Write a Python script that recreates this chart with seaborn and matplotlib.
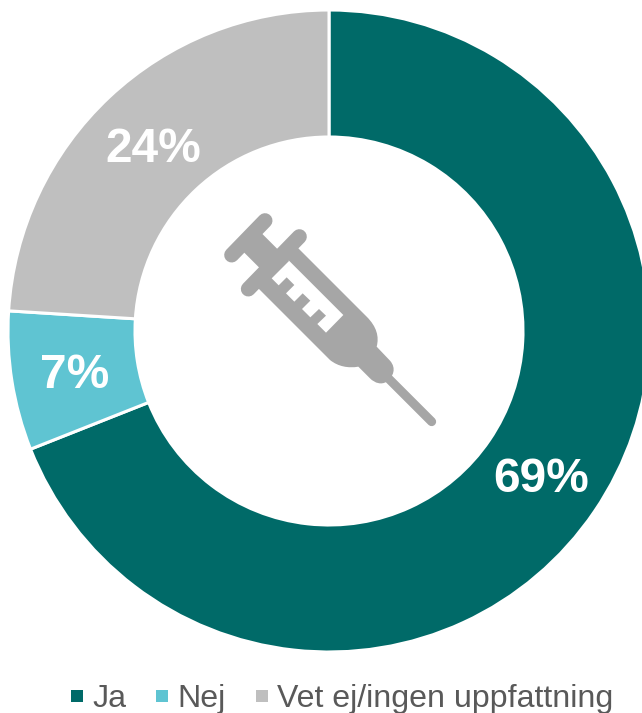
import matplotlib
matplotlib.use("Agg")
import matplotlib.pyplot as plt
from matplotlib.lines import Line2D
from matplotlib.path import Path
from matplotlib.patches import PathPatch, Polygon
import seaborn as sns

categories = ["Ja", "Nej", "Vet ej/ingen uppfattning"]
values = [69, 7, 24]
labels = ["69%", "7%", "24%"]
colors = ["#006A68", "#5FC4D2", "#BFBFBF"]

sns.set_theme(style="white")
plt.rcParams["font.family"] = ["Liberation Sans", "DejaVu Sans"]
palette = sns.color_palette(colors)

W, H = 642, 713
fig = plt.figure(figsize=(W / 100, H / 100), dpi=100)
ax = fig.add_axes([0, 0, 1, 1])
ax.pie(values, colors=palette, startangle=90, counterclock=False,
       center=(329, H - 331), radius=321,
       wedgeprops=dict(width=127, edgecolor="white", linewidth=2.2))
ax.set_xlim(0, W)
ax.set_ylim(0, H)
ax.set_aspect("equal")
ax.axis("off")

# percentage labels (positions in pixels of the picture)
for txt, (x, y) in zip(labels, [(541, 480), (75, 375), (153, 149)]):
    ax.text(x, H - y, txt, color="white", fontsize=34.5, fontweight="bold",
            ha="center", va="center")

# syringe icon: coordinates come from a 3x crop whose origin is (200, 190)
def pt(x, y):
    return (200 + x / 3, H - (190 + y / 3))

icon = "#A6A6A6"
px = 0.72
for (a, b, w) in [((195, 92), (95, 195), 15), ((298, 140), (145, 297), 15), ((560, 560), (695, 695), 9)]:
    (x0, y0), (x1, y1) = pt(*a), pt(*b)
    ax.add_line(Line2D([x0, x1], [y0, y1], color=icon, lw=w * px, solid_capstyle="round"))
(x0, y0), (x1, y1) = pt(145, 145), pt(240, 240)
ax.add_line(Line2D([x0, x1], [y0, y1], color=icon, lw=26 * px, solid_capstyle="butt"))

verts = [(285, 165), (500, 380), (530, 410), (538, 440), (530, 470), (570, 512),
         (590, 535), (580, 560), (560, 575), (545, 585), (525, 580), (510, 565),
         (475, 530), (445, 535), (415, 530), (390, 510), (165, 285), (285, 165)]
codes = [Path.MOVETO, Path.LINETO, Path.CURVE4, Path.CURVE4, Path.CURVE4, Path.LINETO,
         Path.CURVE4, Path.CURVE4, Path.CURVE4, Path.CURVE4, Path.CURVE4, Path.CURVE4,
         Path.LINETO, Path.CURVE4, Path.CURVE4, Path.CURVE4, Path.LINETO, Path.CLOSEPOLY]
ax.add_patch(PathPatch(Path([pt(*v) for v in verts], codes), facecolor=icon, edgecolor="none"))

window = [(265, 210), (430, 375), (378, 428), (352, 402), (378, 377), (357, 357),
          (331, 382), (306, 357), (331, 332), (308, 310), (283, 335), (258, 310),
          (283, 285), (260, 262), (236, 286), (212, 262)]
ax.add_patch(Polygon([pt(*v) for v in window], closed=True, facecolor="white", edgecolor="none"))

handles = [Line2D([], [], linestyle="none", marker="s", markersize=8, color=c,
                  markeredgewidth=0) for c in palette]
leg = ax.legend(handles, categories, ncol=3, frameon=False, loc="center",
                bbox_to_anchor=(341 / W, 1 - 699 / H), bbox_transform=ax.transAxes,
                fontsize=23.1, labelcolor="#595959", handlelength=0.5,
                handletextpad=0.22, columnspacing=0.88, borderpad=0, borderaxespad=0)

fig.savefig("out.png", dpi=100)
